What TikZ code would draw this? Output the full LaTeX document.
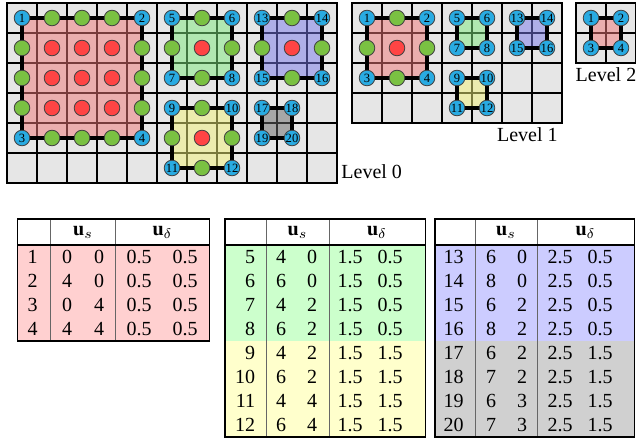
\documentclass[tikz,border=0pt]{standalone}
\usepackage{fontspec}
\setmainfont{Liberation Serif}

\definecolor{cellgray}{RGB}{230,230,230}
\definecolor{patchred}{RGB}{240,120,120}
\definecolor{patchgreen}{RGB}{126,234,126}
\definecolor{patchblue}{RGB}{122,122,234}
\definecolor{patchyellow}{RGB}{242,242,122}
\definecolor{patchgray}{RGB}{106,106,106}
\definecolor{dotblue}{RGB}{41,171,226}
\definecolor{dotgreen}{RGB}{122,193,66}
\definecolor{dotred}{RGB}{255,68,68}
\definecolor{rowred}{RGB}{255,208,208}
\definecolor{rowgreen}{RGB}{204,255,204}
\definecolor{rowyellow}{RGB}{255,255,204}
\definecolor{rowblue}{RGB}{204,204,255}
\definecolor{rowgray}{RGB}{208,208,208}

\begin{document}
\begin{tikzpicture}[x=0.5pt,y=-0.5pt,every node/.style={font=\normalsize},
  cellbox/.style={fill=cellgray,draw=black,line width=0.65pt},
  patchline/.style={draw=black,line width=2pt},
  gdot/.style={circle,draw=black!75,line width=0.4pt,minimum size=7.8pt,inner sep=0pt},
  cornerdot/.style={gdot,fill=dotblue,font=\fontsize{6.3}{6.3}\selectfont},
  edgedot/.style={gdot,fill=dotgreen},
  innerdot/.style={gdot,fill=dotred},
  levellabel/.style={inner sep=2pt},
  cellnum/.style={font=\fontsize{10}{11}\selectfont,inner sep=0pt},
  tableframe/.style={draw=black,line width=0.7pt},
  colrule/.style={draw=black!60,line width=0.5pt}]
\useasboundingbox (0,0) rectangle (636,438);

% Level 0 grid, 11 x 6 cells.
\begin{scope}[shift={(7,3)},x=15pt,y=-15pt]
\foreach \c in {0,...,10} \foreach \r in {0,...,5} \draw[cellbox] (\c,\r) rectangle +(1,1);
\foreach \col/\x/\y/\X/\Y in {patchred/0/0/4/4,patchgreen/5/0/7/2,patchblue/8/0/10/2,patchyellow/5/3/7/5,patchgray/8/3/9/4}{
  \fill[\col,opacity=0.5] (\x+.5,\y+.5) rectangle (\X+.5,\Y+.5);
  \draw[patchline] (\x+.5,\y+.5) rectangle (\X+.5,\Y+.5);
}
\foreach \c/\r in {1/0,2/0,3/0,0/1,4/1,0/2,4/2,0/3,4/3,1/4,2/4,3/4,6/0,5/1,7/1,6/2,9/0,8/1,10/1,9/2,6/3,5/4,7/4,6/5}
  \node[edgedot] (e0-\c-\r) at (\c+.5,\r+.5) {};
\foreach \c/\r in {1/1,2/1,3/1,1/2,2/2,3/2,1/3,2/3,3/3,6/1,9/1,6/4}
  \node[innerdot] (i0-\c-\r) at (\c+.5,\r+.5) {};
\foreach \c/\r/\n in {0/0/1,4/0/2,0/4/3,4/4/4,5/0/5,7/0/6,5/2/7,7/2/8,5/3/9,7/3/10,5/5/11,7/5/12,8/0/13,10/0/14,8/2/15,10/2/16,8/3/17,9/3/18,8/4/19,9/4/20}
  \node[cornerdot] (a\n) at (\c+.5,\r+.5) {\n};
\node[levellabel,anchor=south west] (lev0) at (11,6) {Level 0};
\end{scope}

% Level 1 grid, 7 x 4 cells.
\begin{scope}[shift={(352,3)},x=15pt,y=-15pt]
\foreach \c in {0,...,6} \foreach \r in {0,...,3} \draw[cellbox] (\c,\r) rectangle +(1,1);
\foreach \col/\x/\y/\X/\Y in {patchred/0/0/2/2,patchgreen/3/0/4/1,patchyellow/3/2/4/3,patchblue/5/0/6/1}{
  \fill[\col,opacity=0.5] (\x+.5,\y+.5) rectangle (\X+.5,\Y+.5);
  \draw[patchline] (\x+.5,\y+.5) rectangle (\X+.5,\Y+.5);
}
\foreach \c/\r in {1/0,0/1,2/1,1/2}
  \node[edgedot] (e1-\c-\r) at (\c+.5,\r+.5) {};
\node[innerdot] (i1-1-1) at (1.5,1.5) {};
\foreach \c/\r/\n in {0/0/1,2/0/2,0/2/3,2/2/4,3/0/5,4/0/6,3/1/7,4/1/8,3/2/9,4/2/10,3/3/11,4/3/12,5/0/13,6/0/14,5/1/15,6/1/16}
  \node[cornerdot] (b\n) at (\c+.5,\r+.5) {\n};
\node[levellabel,anchor=north east] (lev1) at (7,4) {Level 1};
\end{scope}

% Level 2 grid, 2 x 2 cells.
\begin{scope}[shift={(576,3)},x=15pt,y=-15pt]
\foreach \c in {0,1} \foreach \r in {0,1} \draw[cellbox] (\c,\r) rectangle +(1,1);
\fill[patchred,opacity=0.5] (.5,.5) rectangle (1.5,1.5);
\draw[patchline] (.5,.5) rectangle (1.5,1.5);
\foreach \c/\r/\n in {0/0/1,1/0/2,0/1/3,1/1/4}
  \node[cornerdot] (c\n) at (\c+.5,\r+.5) {\n};
\node[levellabel,anchor=north] (lev2) at (1,2) {Level 2};
\end{scope}

% Table of level 0, red patch.
\fill[rowred] (17.5,245) rectangle (209.5,341);
\draw[colrule] (50.5,219) -- (50.5,341);
\draw[colrule] (115.5,219) -- (115.5,341);
\draw[tableframe] (17.5,245) -- (209.5,245);
\draw[tableframe] (17.5,219) rectangle (209.5,341);
\node[cellnum] (h1s) at (83,232) {$\mathbf{u}_s$};
\node[cellnum] (h1d) at (162.5,232) {$\mathbf{u}_\delta$};
\foreach \n/\a/\b/\c/\d [count=\k from 0] in {1/0/0/0.5/0.5,2/4/0/0.5/0.5,3/0/4/0.5/0.5,4/4/4/0.5/0.5}{
  \node[cellnum,anchor=east] (t1-\n) at (38,257+24*\k) {\n};
  \node[cellnum] (t1-\n-a) at (67,257+24*\k) {\a};
  \node[cellnum] (t1-\n-b) at (99,257+24*\k) {\b};
  \node[cellnum] (t1-\n-c) at (139,257+24*\k) {\c};
  \node[cellnum] (t1-\n-d) at (185,257+24*\k) {\d};
}

% Table of green and yellow patches.
\fill[rowgreen] (225,245) rectangle (425.5,341);
\fill[rowyellow] (225,341) rectangle (425.5,437);
\draw[colrule] (266,219) -- (266,437);
\draw[colrule] (329,219) -- (329,437);
\draw[tableframe] (225,245) -- (425.5,245);
\draw[tableframe] (225,219) rectangle (425.5,437);
\node[cellnum] (h2s) at (297.5,232) {$\mathbf{u}_s$};
\node[cellnum] (h2d) at (377,232) {$\mathbf{u}_\delta$};
\foreach \n/\a/\b/\c/\d [count=\k from 0] in {5/4/0/1.5/0.5,6/6/0/1.5/0.5,7/4/2/1.5/0.5,8/6/2/1.5/0.5,9/4/2/1.5/1.5,10/6/2/1.5/1.5,11/4/4/1.5/1.5,12/6/4/1.5/1.5}{
  \node[cellnum,anchor=east] (t2-\n) at (255.5,257+24*\k) {\n};
  \node[cellnum] (t2-\n-a) at (281,257+24*\k) {\a};
  \node[cellnum] (t2-\n-b) at (312,257+24*\k) {\b};
  \node[cellnum] (t2-\n-c) at (350,257+24*\k) {\c};
  \node[cellnum] (t2-\n-d) at (390,257+24*\k) {\d};
}

% Table of blue and gray patches.
\fill[rowblue] (435,245) rectangle (634.5,341);
\fill[rowgray] (435,341) rectangle (634.5,437);
\draw[colrule] (475,219) -- (475,437);
\draw[colrule] (537,219) -- (537,437);
\draw[tableframe] (435,245) -- (634.5,245);
\draw[tableframe] (435,219) rectangle (634.5,437);
\node[cellnum] (h3s) at (506,232) {$\mathbf{u}_s$};
\node[cellnum] (h3d) at (585.5,232) {$\mathbf{u}_\delta$};
\foreach \n/\a/\b/\c/\d [count=\k from 0] in {13/6/0/2.5/0.5,14/8/0/2.5/0.5,15/6/2/2.5/0.5,16/8/2/2.5/0.5,17/6/2/2.5/1.5,18/7/2/2.5/1.5,19/6/3/2.5/1.5,20/7/3/2.5/1.5}{
  \node[cellnum,anchor=east] (t3-\n) at (464,257+24*\k) {\n};
  \node[cellnum] (t3-\n-a) at (491,257+24*\k) {\a};
  \node[cellnum] (t3-\n-b) at (522,257+24*\k) {\b};
  \node[cellnum] (t3-\n-c) at (560,257+24*\k) {\c};
  \node[cellnum] (t3-\n-d) at (600,257+24*\k) {\d};
}
\end{tikzpicture}
\end{document}
